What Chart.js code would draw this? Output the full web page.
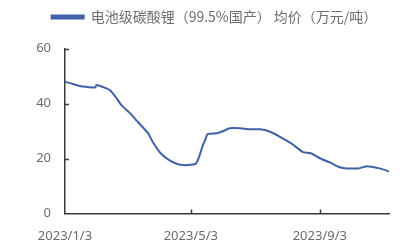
<!DOCTYPE html>
<html>
<head>
<meta charset="utf-8">
<script src="https://cdn.jsdelivr.net/npm/chart.js@4/dist/chart.umd.min.js"></script>
<style>
  html, body { margin: 0; padding: 0; background: #fff; }
  #wrap { width: 413px; height: 252px; }
</style>
</head>
<body>
<div id="wrap"><canvas id="priceChart" width="413" height="252"></canvas></div>
<script>
"use strict";

const seriesLabel = "电池级碳酸锂（99.5%国产） 均价（万元/吨）";

const dates = [
  "2023/1/3", "2023/1/8", "2023/1/17", "2023/1/30", "2023/2/1", "2023/2/2",
  "2023/2/8", "2023/2/15", "2023/2/22", "2023/2/25", "2023/2/28", "2023/3/6",
  "2023/3/13", "2023/3/23", "2023/3/28", "2023/4/4", "2023/4/12", "2023/4/20",
  "2023/4/26", "2023/5/3", "2023/5/8", "2023/5/11", "2023/5/14", "2023/5/17",
  "2023/5/19", "2023/5/28", "2023/6/3", "2023/6/9", "2023/6/19", "2023/6/28",
  "2023/7/8", "2023/7/17", "2023/7/27", "2023/8/4", "2023/8/10", "2023/8/18",
  "2023/8/25", "2023/9/3", "2023/9/13", "2023/9/22", "2023/9/29", "2023/10/10",
  "2023/10/18", "2023/10/30", "2023/11/8"
];

const prices = [
  47.9, 47.4, 46.4, 45.8, 45.9, 46.7,
  46.0, 44.8, 41.5, 39.8, 38.6, 36.5,
  33.5, 29.3, 25.8, 22.0, 19.5, 18.0,
  17.6, 17.7, 18.2, 20.7, 24.3, 27.0,
  28.9, 29.2, 30.0, 31.0, 31.0, 30.6,
  30.6, 29.8, 27.9, 26.1, 24.6, 22.3,
  22.0, 20.1, 18.5, 16.8, 16.4, 16.4,
  17.2, 16.4, 15.3
];

const xTickLabels = ["2023/1/3", "2023/5/3", "2023/9/3"];
const yTicks = [0, 20, 40, 60];

const LINE_COLOR = "#4062a8";
const AXIS_COLOR = "#3a3a3a";
const TEXT_COLOR = "#6b6b6b";

function dayOf(label) {
  const [y, m, d] = label.split("/").map(Number);
  const start = Date.UTC(2023, 0, 3);
  return Math.round((Date.UTC(y, m - 1, d) - start) / 86400000);
}

const points = dates.map((d, i) => ({ x: dayOf(d), y: prices[i] }));
const xTickDays = xTickLabels.map(dayOf);

// tick marks point into the plot area
const innerTicks = {
  id: "innerTicks",
  afterDraw(chart) {
    const { ctx, chartArea, scales } = chart;
    ctx.save();
    ctx.strokeStyle = AXIS_COLOR;
    ctx.lineWidth = 1.5;
    ctx.beginPath();
    yTicks.forEach((v) => {
      if (v === 0) return;
      const py = Math.round(scales.y.getPixelForValue(v)) + 0.5;
      ctx.moveTo(chartArea.left, py);
      ctx.lineTo(chartArea.left + 4, py);
    });
    xTickDays.forEach((v) => {
      if (v === 0) return;
      const px = Math.round(scales.x.getPixelForValue(v)) + 0.5;
      ctx.moveTo(px, chartArea.bottom);
      ctx.lineTo(px, chartArea.bottom - 4);
    });
    ctx.stroke();
    ctx.restore();
  }
};

new Chart(document.getElementById("priceChart"), {
  type: "line",
  data: {
    datasets: [{
      label: seriesLabel,
      data: points,
      borderColor: LINE_COLOR,
      backgroundColor: LINE_COLOR,
      borderWidth: 2,
      pointRadius: 0,
      tension: 0.2,
      fill: false
    }]
  },
  options: {
    responsive: false,
    animation: false,
    devicePixelRatio: 1,
    layout: { padding: { top: 2, left: 16, right: 0, bottom: 0 } },
    plugins: {
      legend: {
        display: true,
        position: "top",
        labels: {
          color: "#6e6e6e",
          font: { family: "'Noto Sans CJK SC', 'Noto Sans', sans-serif", size: 14 },
          boxWidth: 32,
          boxHeight: 3,
          padding: 8
        }
      },
      // empty spacer between legend and plot
      subtitle: {
        display: true,
        text: "",
        position: "top",
        weight: 500,
        font: { size: 1, lineHeight: 1 },
        padding: { top: 0, bottom: 13.5 }
      },
      tooltip: { enabled: false }
    },
    scales: {
      x: {
        type: "linear",
        min: 0,
        max: dayOf(dates[dates.length - 1]),
        afterBuildTicks(axis) {
          axis.ticks = xTickDays.map((v) => ({ value: v }));
        },
        afterFit(axis) { axis.height = 38.5; },
        grid: { display: true, drawOnChartArea: false, drawTicks: false },
        border: { display: true, color: AXIS_COLOR, width: 1.5 },
        ticks: {
          autoSkip: false,
          maxRotation: 0,
          padding: 15,
          color: TEXT_COLOR,
          font: { family: "'Noto Sans', sans-serif", size: 13 },
          callback: (value) => xTickLabels[xTickDays.indexOf(value)] ?? ""
        }
      },
      y: {
        min: 0,
        max: 60,
        afterBuildTicks(axis) {
          axis.ticks = yTicks.map((v) => ({ value: v }));
        },
        afterFit(axis) { axis.width = 49; },
        grid: { display: true, drawOnChartArea: false, drawTicks: false },
        border: { display: true, color: AXIS_COLOR, width: 1.5 },
        ticks: {
          padding: 14,
          color: TEXT_COLOR,
          font: { family: "'Noto Sans', sans-serif", size: 13 }
        }
      },
      // blank right margin box
      yRight: {
        type: "linear",
        position: "right",
        display: true,
        afterFit(axis) { axis.width = 24; },
        grid: { display: false },
        border: { display: false },
        ticks: { display: false }
      }
    }
  },
  plugins: [innerTicks]
});
</script>
</body>
</html>
